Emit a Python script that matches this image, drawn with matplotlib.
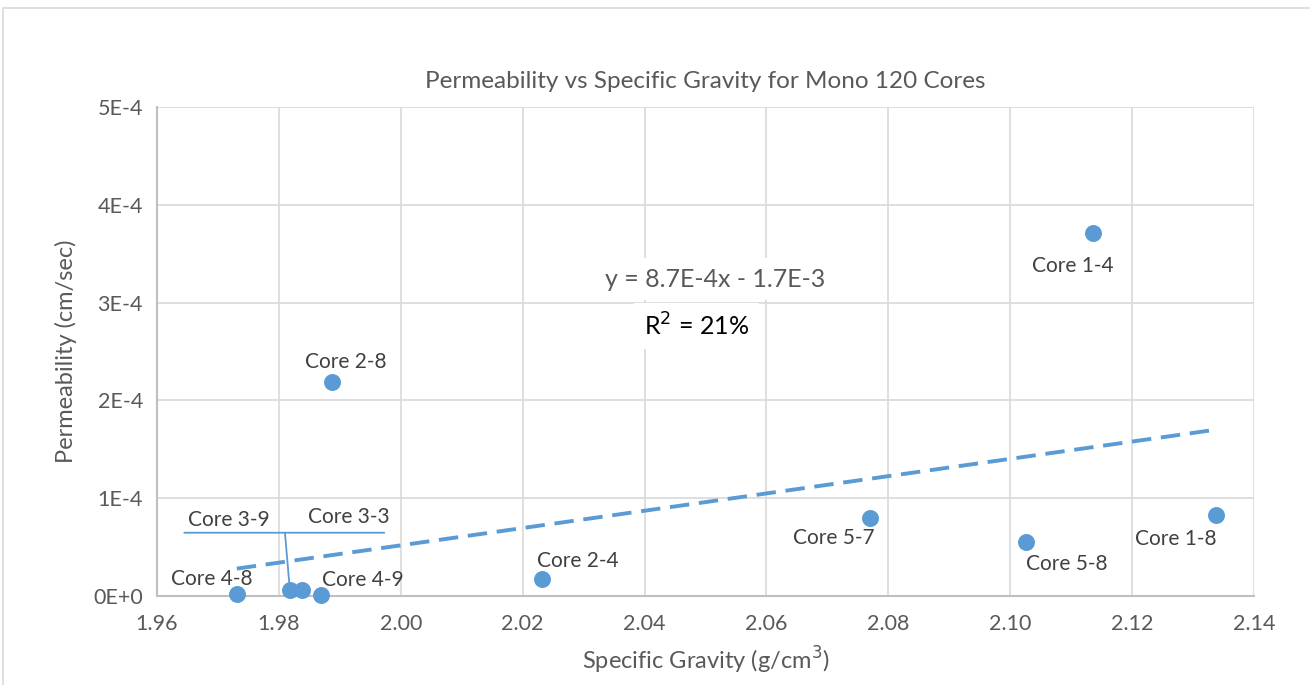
import numpy as np
import matplotlib.pyplot as plt
from matplotlib.patches import Rectangle
from matplotlib.ticker import FuncFormatter
from matplotlib.transforms import offset_copy

plt.rcParams['font.family'] = ['Lato', 'DejaVu Sans']

# Data
cores = ["Core 4-8", "Core 3-9", "Core 3-3", "Core 4-9", "Core 2-8",
         "Core 2-4", "Core 5-7", "Core 5-8", "Core 1-4", "Core 1-8"]
sg = [1.9731, 1.9818, 1.9838, 1.9869, 1.9887,
      2.0232, 2.0770, 2.1026, 2.1136, 2.1338]
perm = [2.0e-6, 6.5e-6, 6.5e-6, 1.0e-6, 2.19e-4,
        1.75e-5, 7.95e-5, 5.5e-5, 3.71e-4, 8.25e-5]

# label offsets (points)
offsets = [(-18, 11), (-44, 50), (34, 52), (30, 11), (10, 14),
           (26, 13), (-26, -14), (29, -16), (-15, -24), (-29, -17)]

blue = '#5B9BD5'
gray = '#595959'

fig = plt.figure(figsize=(13.1, 6.85), dpi=100)
fig.patches.append(Rectangle((3 / 1310, -0.1), 1.2, 1 - 8 / 685 + 0.1,
                             transform=fig.transFigure, fill=False,
                             edgecolor='#D9D9D9', linewidth=1.2))
ax = fig.add_axes([0.1198, 0.1299, 0.8375, 0.7139])

ax.scatter(sg, perm, s=125, color=blue, zorder=4, clip_on=False)

# Linear trendline
coef = np.polyfit(sg, perm, 1)
xs = np.array([min(sg), max(sg)])
ax.plot(xs, np.polyval(coef, xs), linestyle=(0, (5, 2.5)), color=blue,
        linewidth=2.8, zorder=3)

for name, x, y, (dx, dy) in zip(cores, sg, perm, offsets):
    ax.annotate(name, (x, y), xytext=(dx, dy), textcoords='offset points',
                ha='center', va='center', fontsize=15, color='#404040',
                zorder=5)

# leader lines for Core 3-9 / Core 3-3 labels
i = cores.index("Core 3-9")
ax.annotate('', (sg[i], perm[i]), xytext=(-3.5, 41), textcoords='offset points',
            arrowprops=dict(arrowstyle='-', color=blue, lw=1.3,
                            shrinkA=0, shrinkB=4))
t = offset_copy(ax.transData, fig=fig, x=-76, y=41, units='points')
t2 = offset_copy(ax.transData, fig=fig, x=68, y=41, units='points')
ax.annotate('', xy=(sg[i], perm[i]), xycoords=t2,
            xytext=(sg[i], perm[i]), textcoords=t,
            arrowprops=dict(arrowstyle='-', color=blue, lw=1.3,
                            shrinkA=0, shrinkB=0))

# Equation text
ax.text(0.509, 0.648, "y = 8.7E-4x - 1.7E-3", transform=ax.transAxes,
        ha='center', va='center', fontsize=18, color=gray,
        bbox=dict(facecolor='white', edgecolor='none', pad=7), zorder=6)
ax.text(0.492, 0.552, "R$^2$ = 21%", transform=ax.transAxes,
        ha='center', va='center', fontsize=18, color='black',
        bbox=dict(facecolor='white', edgecolor='none', pad=7), zorder=6)

ax.set_xlim(1.96, 2.14)
ax.set_ylim(0, 5e-4)
ax.set_xticks(np.arange(1.96, 2.141, 0.02))
ax.set_yticks(np.arange(0, 5.01e-4, 1e-4))
ax.xaxis.set_major_formatter(FuncFormatter(lambda v, p: f"{v:.2f}"))
ax.yaxis.set_major_formatter(FuncFormatter(
    lambda v, p: "0E+0" if abs(v) < 1e-12 else f"{v * 1e4:.0f}E-4"))
ax.tick_params(length=0, labelsize=15.5, labelcolor=gray)
ax.tick_params(axis='x', pad=13)
ax.tick_params(axis='y', pad=10)
ax.grid(True, color='#D9D9D9', linewidth=1.2)
ax.set_axisbelow(True)
for s in ['top', 'right']:
    ax.spines[s].set_visible(False)
for s in ['bottom', 'left']:
    ax.spines[s].set_color('#BFBFBF')
    ax.spines[s].set_linewidth(1.5)

ax.set_title("Permeability vs Specific Gravity for Mono 120 Cores",
             fontsize=17.5, color=gray, pad=14)
ax.set_xlabel("Specific Gravity (g/cm$^3$)", fontsize=17, color=gray, labelpad=8)
ax.set_ylabel("Permeability (cm/sec)", fontsize=17, color=gray, labelpad=12)

fig.savefig("out.png", dpi=100)
